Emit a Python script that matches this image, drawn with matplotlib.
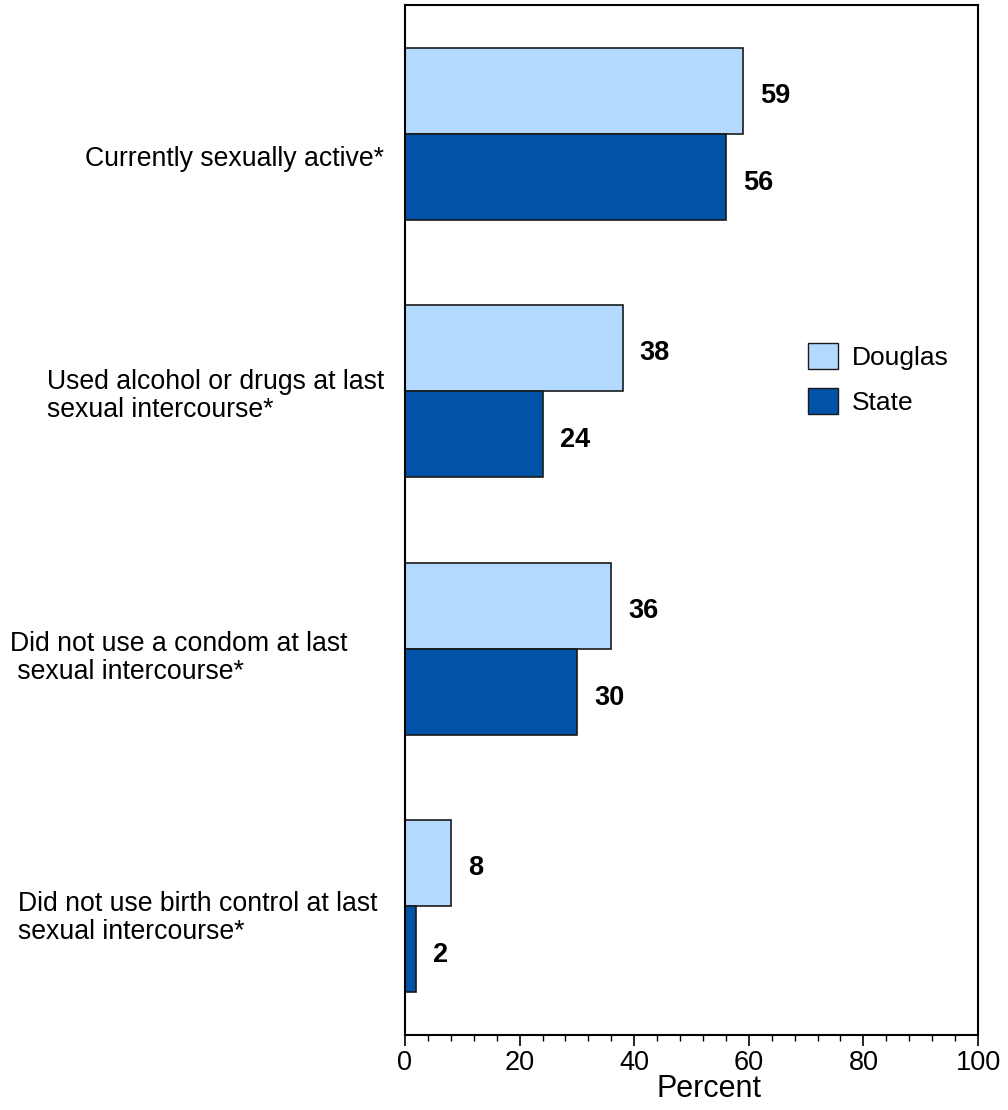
import matplotlib
matplotlib.use('Agg')
import matplotlib.pyplot as plt
import matplotlib.transforms as mtransforms
from matplotlib.patches import Patch
from matplotlib.ticker import MultipleLocator
import numpy as np

categories = ['Currently sexually active*',
              'Used alcohol or drugs at last\nsexual intercourse*',
              'Did not use a condom at last\n sexual intercourse*',
              'Did not use birth control at last\nsexual intercourse*']
douglas = [59, 38, 36, 8]
state = [56, 24, 30, 2]
series_names = ['Douglas', 'State']

light_blue = '#b3d9fe'
dark_blue = '#0053a6'

# label placement (pixel x, y offset in data units)
label_x = [85, 47, 10, 18]
label_dy = [0.10, 0.02, 0.035, 0.045]


def main():
    plt.rcParams['font.family'] = ['Liberation Sans', 'DejaVu Sans']
    fig = plt.figure(figsize=(10.08, 11.10), dpi=100)
    ax = fig.add_axes([405 / 1008, 1 - 1035 / 1110, 573 / 1008, 1030 / 1110])

    y = np.arange(len(categories))
    h = 1 / 3
    ax.barh(y - h / 2, douglas, height=h, color=light_blue, edgecolor='#1a1a1a', linewidth=1.2)
    ax.barh(y + h / 2, state, height=h, color=dark_blue, edgecolor='#1a1a1a', linewidth=1.2)

    for i in range(len(categories)):
        ax.annotate(str(douglas[i]), (douglas[i], y[i] - h / 2), xytext=(17, -5),
                    textcoords='offset pixels', ha='left', va='center',
                    fontsize=19.5, fontweight='bold')
        ax.annotate(str(state[i]), (state[i], y[i] + h / 2), xytext=(17, -6),
                    textcoords='offset pixels', ha='left', va='center',
                    fontsize=19.5, fontweight='bold')

    trans = mtransforms.blended_transform_factory(fig.transFigure, ax.transData)
    for i, cat in enumerate(categories):
        ax.text(label_x[i] / 1008, y[i] + label_dy[i], cat, transform=trans,
                ha='left', va='center', fontsize=19.2, linespacing=1.1)

    ax.set_xlim(0, 100)
    ax.set_ylim(3.5, -0.5)
    ax.xaxis.set_major_locator(MultipleLocator(20))
    ax.xaxis.set_minor_locator(MultipleLocator(4))
    ax.tick_params(axis='x', which='major', length=8, width=1.2, labelsize=19.5, pad=3)
    ax.tick_params(axis='x', which='minor', length=4, width=1)
    ax.set_yticks([])
    ax.set_xlabel('Percent', fontsize=22)
    ax.xaxis.set_label_coords((709 - 405) / 573, -0.0525)
    ax.xaxis.label.set_va('center')
    for s in ax.spines.values():
        s.set_linewidth(1.5)

    handles = [Patch(facecolor=light_blue, edgecolor='#1a1a1a'),
               Patch(facecolor=dark_blue, edgecolor='#1a1a1a')]
    fig.legend(handles, series_names, loc='upper left', bbox_to_anchor=(808 / 1008, 1 - 343 / 1110),
               frameon=False, fontsize=19, handlelength=1.14, handleheight=1.15,
               handletextpad=0.53, labelspacing=0.68, borderaxespad=0, borderpad=0)

    fig.savefig('out.png', dpi=100)


if __name__ == '__main__':
    main()
